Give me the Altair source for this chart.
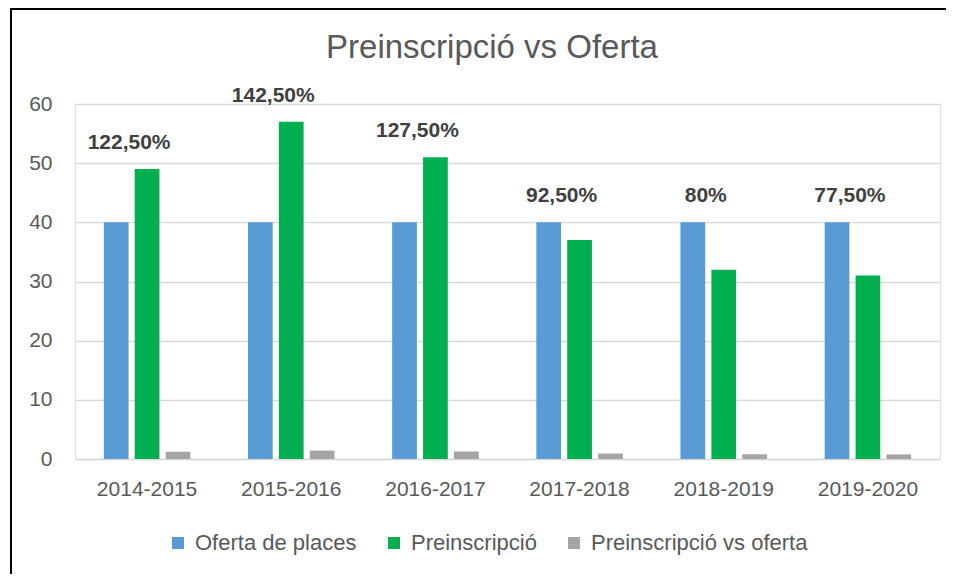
import altair as alt
import pandas as pd

cursos = ["2014-2015", "2015-2016", "2016-2017", "2017-2018", "2018-2019", "2019-2020"]
oferta = [40, 40, 40, 40, 40, 40]
preinscripcio = [49, 57, 51, 37, 32, 31]
ratio = [1.225, 1.425, 1.275, 0.925, 0.80, 0.775]
etiquetes = ["122,50%", "142,50%", "127,50%", "92,50%", "80%", "77,50%"]
titol = ["Preinscripció vs Oferta"]

series = ["Oferta de places", "Preinscripció", "Preinscripció vs oferta"]
colors = ["#5B9BD5", "#00B050", "#A5A5A5"]

rows = []
for i, c in enumerate(cursos):
    rows.append({"curs": c, "serie": series[0], "valor": oferta[i]})
    rows.append({"curs": c, "serie": series[1], "valor": preinscripcio[i]})
    rows.append({"curs": c, "serie": series[2], "valor": ratio[i]})
df = pd.DataFrame(rows)

lab = pd.DataFrame({
    "curs": cursos,
    "etiqueta": etiquetes,
    "top": [max(a, b) for a, b in zip(oferta, preinscripcio)],
})

FONT = "Liberation Sans"
GREY = "#595959"

x_enc = alt.X("curs:N", sort=cursos, title=None,
              scale=alt.Scale(paddingInner=0.4, paddingOuter=0.2),
              axis=alt.Axis(labelAngle=0, labelFontSize=21, labelColor=GREY, labelFont=FONT,
                            ticks=False, domainColor="#D9D9D9", domainWidth=1.5,
                            labelPadding=19))

bars = alt.Chart(df).mark_bar().encode(
    x=x_enc,
    xOffset=alt.XOffset("serie:N", sort=series, scale=alt.Scale(paddingInner=0.2)),
    y=alt.Y("valor:Q", title=None,
            scale=alt.Scale(domain=[0, 60]),
            axis=alt.Axis(values=[0, 10, 20, 30, 40, 50, 60], labelFontSize=21, labelColor=GREY,
                          labelFont=FONT, ticks=False, domain=False, gridColor="#D9D9D9",
                          gridWidth=1.5, labelPadding=23)),
    color=alt.Color("serie:N", sort=series,
                    scale=alt.Scale(domain=series, range=colors),
                    legend=alt.Legend(title=None, orient="none", legendX=92, legendY=428,
                                      direction="horizontal", columns=3, symbolType="square",
                                      symbolSize=144, symbolStrokeWidth=0, labelFontSize=22,
                                      labelColor=GREY, labelFont=FONT, columnPadding=26,
                                      labelOffset=6, labelLimit=400)),
)

texts = alt.Chart(lab).mark_text(fontSize=21, fontWeight="bold", color="#404040", font=FONT,
                                  dx=-18, dy=-26, baseline="middle").encode(
    x=alt.X("curs:N", sort=cursos),
    y=alt.Y("top:Q"),
    text="etiqueta:N",
)

title_df = pd.DataFrame({"t": titol})
title_mark = alt.Chart(title_df).mark_text(fontSize=33, color=GREY, font=FONT,
                                            baseline="alphabetic", align="center").encode(
    x=alt.value(417), y=alt.value(-46), text="t:N")

left_border = alt.Chart(lab).mark_rule(color="black", strokeWidth=2).encode(
    x=alt.value(-64), y=alt.value(-96), y2=alt.value(470))
top_border = alt.Chart(lab).mark_rule(color="black", strokeWidth=2).encode(
    x=alt.value(-65), x2=alt.value(880), y=alt.value(-95))

chart = alt.layer(bars, texts, title_mark, left_border, top_border).properties(
    width=865, height=355,
    autosize=alt.AutoSizeParams(type="none"),
    padding={"left": 67, "top": 96, "right": 6, "bottom": 115},
).configure_view(stroke=None).configure(background="white")

chart.save("out.html", embed_options={"renderer": "svg", "actions": False})
